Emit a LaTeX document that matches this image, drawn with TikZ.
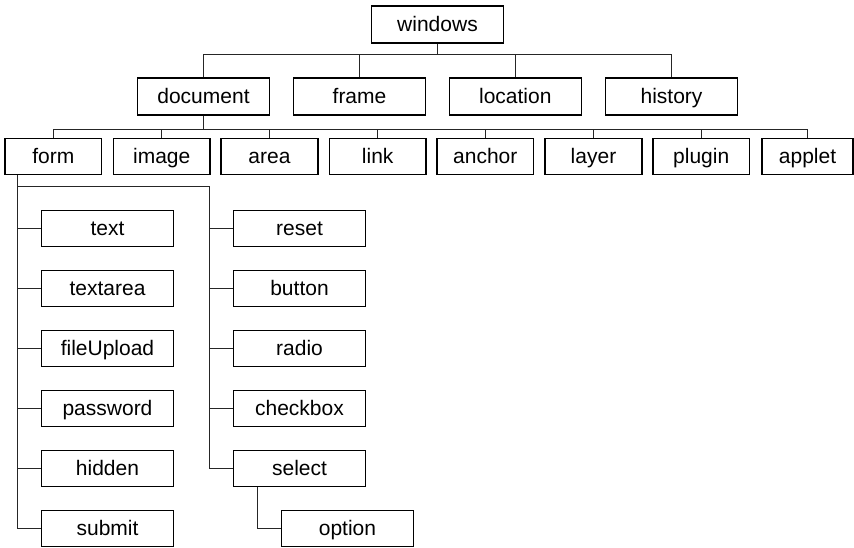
\documentclass[tikz,border=0pt]{standalone}
\usepackage{fontspec}
\setmainfont{Liberation Sans}
\begin{document}
\begin{tikzpicture}[x=1pt,y=-1pt,
  box/.style={draw=black,line width=1.6pt,inner sep=0pt,minimum height=36pt,
    text height=15pt,text depth=1.5pt,
    font=\fontsize{21}{24}\selectfont,text=black},
  bigbox/.style={box,minimum width=132pt,minimum height=37pt},
  midbox/.style={box,minimum width=96.5pt},
  colbox/.style={box,minimum width=132pt},
  link/.style={draw=black!85,line width=0.9pt}]
\useasboundingbox (0,0) rectangle (854,547);
% level 1 and 2
\node[bigbox] (windows) at (437.5,24.5) {windows};
\node[bigbox] (document) at (203.5,96.5) {document};
\node[bigbox] (frame) at (359.5,96.5) {frame};
\node[bigbox] (location) at (515.3,96.5) {location};
\node[bigbox] (history) at (671.5,96.5) {history};
% level 3
\node[midbox] (form) at (53.3,156.3) {form};
\node[midbox] (image) at (161.7,156.3) {image};
\node[midbox] (area) at (269.5,156.3) {area};
\node[midbox] (linknode) at (377.7,156.3) {link};
\node[midbox] (anchor) at (485.3,156.3) {anchor};
\node[midbox] (layer) at (593.5,156.3) {layer};
\node[midbox] (plugin) at (701.2,156.3) {plugin};
\node[box,minimum width=91pt] (applet) at (807.5,156.3) {applet};
% left column
\node[colbox] (text) at (107.5,228.5) {text};
\node[colbox] (textarea) at (107.5,288.5) {textarea};
\node[colbox] (fileUpload) at (107.5,348.5) {fileUpload};
\node[colbox] (password) at (107.5,408.5) {password};
\node[colbox] (hidden) at (107.5,468.5) {hidden};
\node[colbox] (submit) at (107.5,528.5) {submit};
% right column
\node[colbox] (reset) at (299.5,228.5) {reset};
\node[colbox] (button) at (299.5,288.5) {button};
\node[colbox] (radio) at (299.5,348.5) {radio};
\node[colbox] (checkbox) at (299.5,408.5) {checkbox};
\node[colbox] (select) at (299.5,468.5) {select};
\node[colbox] (option) at (347.5,528.5) {option};
% helper coordinates
\coordinate (b1) at (0,54.3);
\coordinate (b2) at (0,129);
\coordinate (fx) at (17.7,0);
\coordinate (fy) at (0,186.7);
\coordinate (rx) at (209.3,0);
\coordinate (sx) at (257.7,0);
% windows to level 2
\draw[link] (windows.south) -- (windows.south |- b1);
\draw[link] (document.north) -- (document.north |- b1) -- (history.north |- b1) -- (history.north);
\draw[link] (frame.north) -- (frame.north |- b1);
\draw[link] (location.north) -- (location.north |- b1);
% document to level 3
\draw[link] (document.south) -- (document.south |- b2);
\draw[link] (form.north) -- (form.north |- b2) -- (b2 -| applet.north) -- (applet.north);
\foreach \n in {image,area,linknode,anchor,layer,plugin}
  \draw[link] (\n.north) -- (\n.north |- b2);
% form children
\draw[link] (form.south -| fx) -- (submit.west -| fx) -- (submit.west);
\foreach \n in {text,textarea,fileUpload,password,hidden}
  \draw[link] (\n.west -| fx) -- (\n.west);
\draw[link] (fx |- fy) -- (rx |- fy) -- (select.west -| rx) -- (select.west);
\foreach \n in {reset,button,radio,checkbox}
  \draw[link] (\n.west -| rx) -- (\n.west);
% select to option
\draw[link] (select.south -| sx) |- (option.west);
\end{tikzpicture}
\end{document}
